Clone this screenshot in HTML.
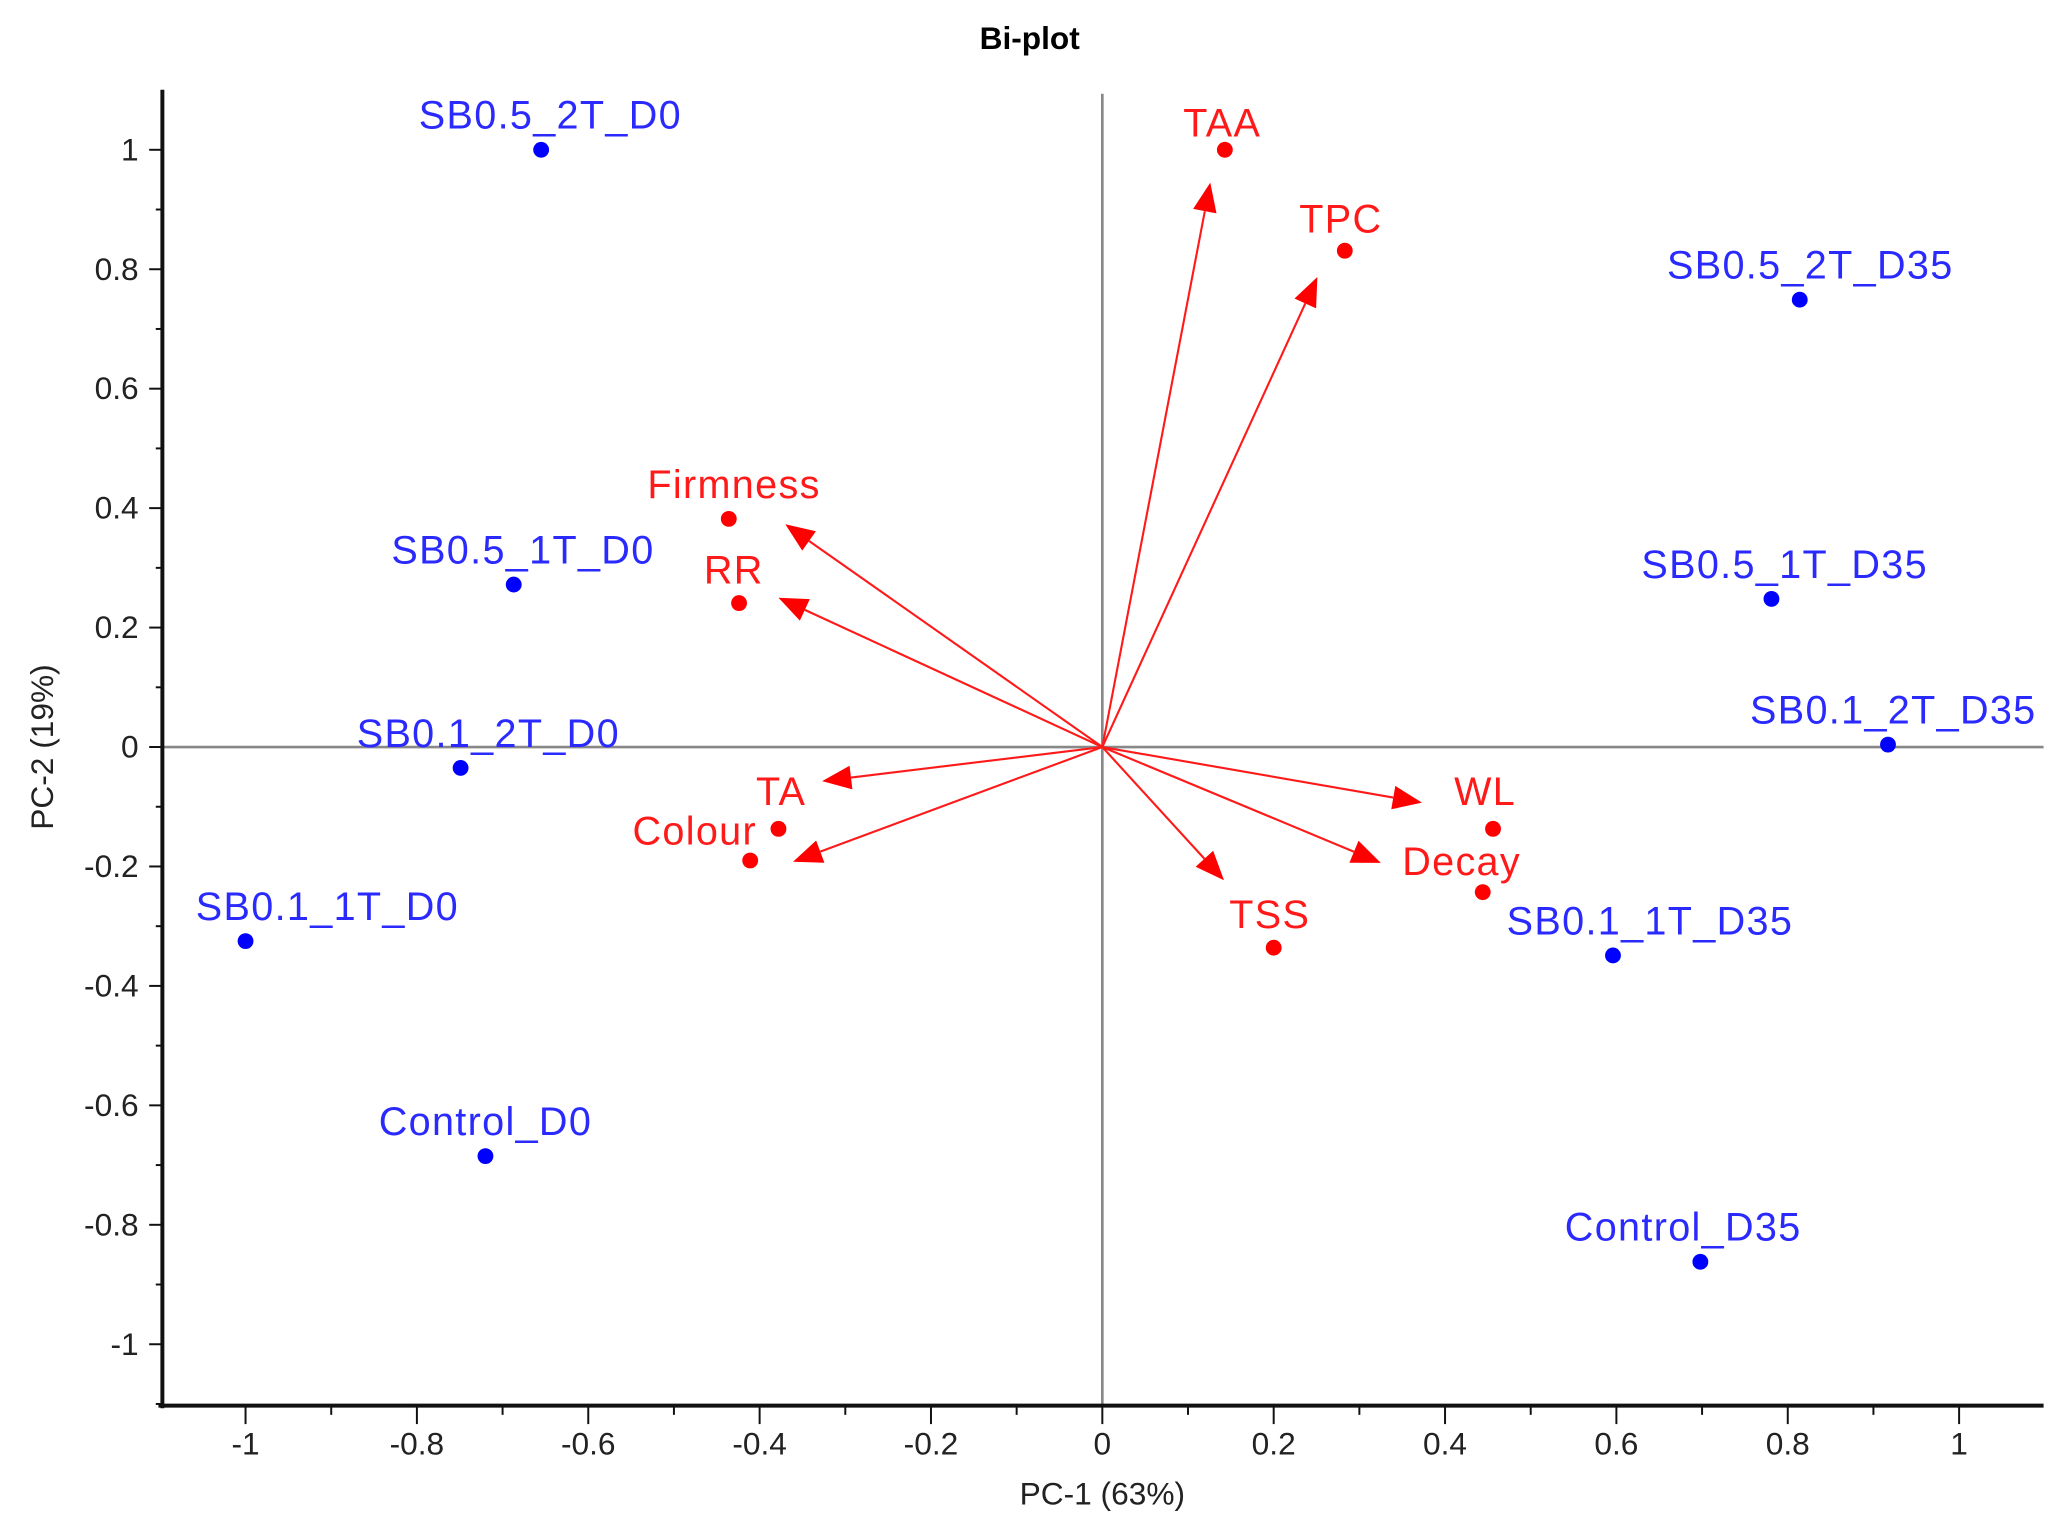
<!DOCTYPE html>
<html><head><meta charset="utf-8"><style>
html,body{margin:0;padding:0;background:#fff;}
svg{display:block;}
</style></head><body>
<svg id="chart" width="2070" height="1531" viewBox="0 0 1568 1160" preserveAspectRatio="none" xmlns="http://www.w3.org/2000/svg" font-family="'Liberation Sans', sans-serif">
<text x="780" y="37" text-anchor="middle" font-size="24" font-weight="bold">Bi-plot</text>
<text x="835" y="1140" text-anchor="middle" font-size="24" fill="#222">PC-1 (63%)</text>
<text transform="translate(40,566) rotate(-90)" text-anchor="middle" font-size="24" fill="#222">PC-2 (19%)</text>
<g id="grid"></g><g id="axes"></g><g id="marks"></g>
</svg>
<script>
// Data
const sampleNames = ["SB0.5_2T_D0","SB0.5_1T_D0","SB0.1_2T_D0","SB0.1_1T_D0","Control_D0","SB0.5_2T_D35","SB0.5_1T_D35","SB0.1_2T_D35","SB0.1_1T_D35","Control_D35"];
const sampleX = [-0.655,-0.687,-0.749,-1.0,-0.72,0.814,0.781,0.917,0.596,0.698];
const sampleY = [1.0,0.272,-0.035,-0.325,-0.685,0.749,0.248,0.004,-0.349,-0.862];
const varNames = ["TAA","TPC","Firmness","RR","TA","Colour","WL","Decay","TSS"];
const varX = [0.143,0.283,-0.436,-0.424,-0.378,-0.411,0.456,0.444,0.2];
const varY = [1.0,0.831,0.382,0.241,-0.137,-0.19,-0.137,-0.243,-0.336];
const arrowX = [0.126,0.251,-0.37,-0.378,-0.327,-0.361,0.373,0.325,0.142];
const arrowY = [0.945,0.787,0.373,0.25,-0.057,-0.192,-0.093,-0.194,-0.223];
const xTickLabels = ["-1","-0.8","-0.6","-0.4","-0.2","0","0.2","0.4","0.6","0.8","1"];
const yTickLabels = ["-1","-0.8","-0.6","-0.4","-0.2","0","0.2","0.4","0.6","0.8","1"];
// label layout offsets (px, display units)
const sampleLabelDx = [7,7,21,62,0,8,10,4,28,-13];
const varLabelDx = [-2,-3,4,-4,2,-42,-6,-16,-3];
const varLabelDy = [-10,-14,-16,-15,-18,-12,-18,-13,-15];

const NS="http://www.w3.org/2000/svg";
const X0=835, XU=649, Y0=566, YU=452.5;
const L=123, R=1548, T=68, B=1065;
const sx=v=>X0+v*XU, sy=v=>Y0-v*YU;
function mk(tag,attrs,parent){const e=document.createElementNS(NS,tag);for(const k in attrs)e.setAttribute(k,attrs[k]);parent.appendChild(e);return e;}
const grid=document.getElementById('grid'),axes=document.getElementById('axes'),marks=document.getElementById('marks');

let zx=mk('line',{x1:L,x2:R,y1:sy(0),y2:sy(0),stroke:'#888','stroke-width':2},grid);


let zy=mk('line',{x1:sx(0),x2:sx(0),y1:T+3,y2:B,stroke:'#888','stroke-width':2},grid);



let ax=mk('line',{x1:L-3,x2:R,y1:B,y2:B,stroke:'#111','stroke-width':3},axes);


let ay=mk('line',{x1:L,x2:L,y1:T,y2:B+2,stroke:'#111','stroke-width':3},axes);



for(let i=-11;i<=11;i++){
  const v=i/10, x=sx(v);
  if(x<L-1||x>R)continue;
  const major=(i%2===0);
  let t=mk('line',{x1:x,x2:x,y1:B,y2:B+(major?14:7),stroke:'#111','stroke-width':1.5},axes);
  
  
}
xTickLabels.forEach(s=>{
  const v=parseFloat(s);
  let t=mk('text',{x:sx(v),y:B+37,'text-anchor':'middle','font-size':24,fill:'#222'},axes);
  t.textContent=s;
  
  
});
for(let i=-11;i<=10;i++){
  const v=i/10, y=sy(v);
  if(y<T||y>B)continue;
  const major=(i%2===0);
  let t=mk('line',{x1:L-(major?10:5),x2:L,y1:y,y2:y,stroke:'#111','stroke-width':1.5},axes);
  
  
}
yTickLabels.forEach(s=>{
  const v=parseFloat(s);
  let t=mk('text',{x:L-18,y:sy(v)+8,'text-anchor':'end','font-size':24,fill:'#222'},axes);
  t.textContent=s;
  
  
});

// arrows
varNames.forEach((n,i)=>{
  const x1=sx(0),y1=sy(0),x2=sx(arrowX[i]),y2=sy(arrowY[i]);
  const dx=x2-x1,dy=y2-y1,len=Math.hypot(dx,dy),ux=dx/len,uy=dy/len;
  const hl=22,hw=9;
  const bx=x2-ux*hl,by=y2-uy*hl;
  let g=mk('g',{},marks);
  
  
  mk('line',{x1:x1,y1:y1,x2:bx,y2:by,stroke:'#ff1a1a','stroke-width':1.6},g);
  mk('polygon',{points:`${x2},${y2} ${bx-uy*hw},${by+ux*hw} ${bx+uy*hw},${by-ux*hw}`,fill:'#ff0000'},g);
});
// variable points
varNames.forEach((n,i)=>{
  let c=mk('circle',{cx:sx(varX[i]),cy:sy(varY[i]),r:6,fill:'#ff0000'},marks);
  
  
  let t=mk('text',{x:sx(varX[i])+varLabelDx[i],y:sy(varY[i])+varLabelDy[i],'text-anchor':'middle','font-size':30,'letter-spacing':1,fill:'#ff1a1a'},marks);
  t.textContent=n;
  
  
});
// sample points
sampleNames.forEach((n,i)=>{
  let c=mk('circle',{cx:sx(sampleX[i]),cy:sy(sampleY[i]),r:6,fill:'#0000ff'},marks);
  
  
  let t=mk('text',{x:sx(sampleX[i])+sampleLabelDx[i],y:sy(sampleY[i])-16,'text-anchor':'middle','font-size':30,'letter-spacing':1,fill:'#2a2aff'},marks);
  t.textContent=n;
  
  
});
</script>
</body></html>
